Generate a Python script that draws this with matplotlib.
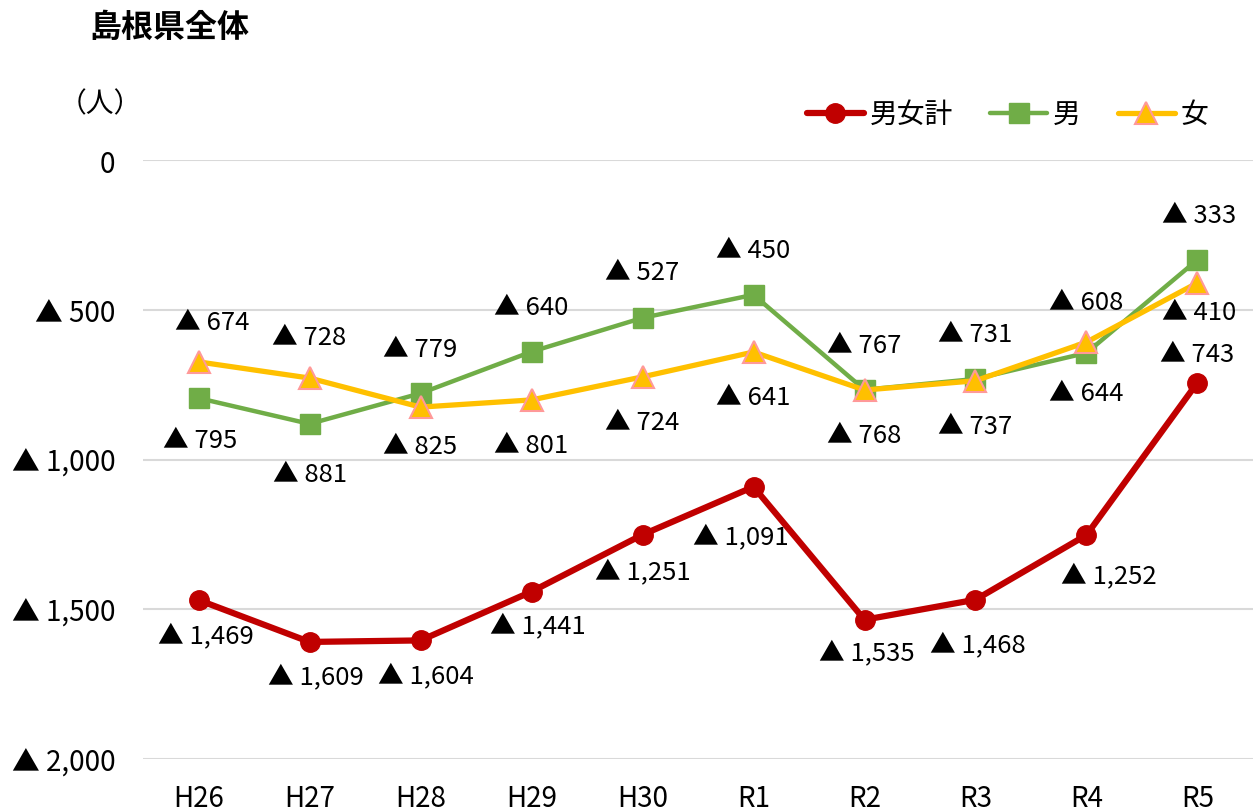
import matplotlib
matplotlib.use("Agg")
from matplotlib import pyplot as plt
from matplotlib.ticker import FuncFormatter

plt.rcParams['font.family'] = ['Noto Sans CJK JP', 'DejaVu Sans']

# 島根県全体 の人口増減（▲ = 減少）
years = ['H26', 'H27', 'H28', 'H29', 'H30', 'R1', 'R2', 'R3', 'R4', 'R5']
total = [-1469, -1609, -1604, -1441, -1251, -1091, -1535, -1468, -1252, -743]
male = [-795, -881, -779, -640, -527, -450, -767, -731, -644, -333]
female = [-674, -728, -825, -801, -724, -641, -768, -737, -608, -410]

# label offsets from each point, in pixels (dx right, dy down)
total_dx = [7, 6, 5, 6, 0, -13, 2, 2, 22, 0]
total_dy = [35, 34, 35, 34, 37, 49, 33, 45, 40, -29]
male_dx = [2, 0, 0, 0, 0, 0, 0, 0, 0, 2]
male_dy = [42, 50, -44, -45, -46, -45, -45, -45, 40, -45]
female_dx = [14, 0, 0, 0, 0, 0, 0, 0, 0, 2]
female_dy = [-40, -41, 39, 45, 45, 45, 45, 45, -40, 29]

FS = 18.5
TFS = 20


def fmt(v):
    if v < 0:
        return '▲ {:,}'.format(int(-v))
    return '{:,}'.format(int(v))


fig = plt.figure(figsize=(12.57, 8.12), dpi=100)
ax = fig.add_axes([0.1138, 0.064, 0.883, 0.7377])

x = list(range(len(years)))

ax.plot(x, total, color='#C00000', lw=4.5, marker='o', ms=14,
        mfc='#C00000', mec='#C00000', label='男女計', zorder=3,
        solid_capstyle='round')
ax.plot(x, male, color='#70AD47', lw=3.2, marker='s', ms=15,
        mfc='#70AD47', mec='#70AD47', label='男', zorder=4,
        solid_capstyle='round')
ax.plot(x, female, color='#FFC000', lw=3.8, marker='^', ms=16,
        mfc='#FFC000', mec='#FF9999', mew=1.5, label='女', zorder=5,
        solid_capstyle='round')


def put_labels(vals, dxs, dys):
    for i, v in enumerate(vals):
        ax.annotate(fmt(v), (i, v), xytext=(dxs[i], -dys[i]),
                    textcoords='offset pixels', ha='center', va='center',
                    fontsize=FS, color='black', zorder=6)


put_labels(total, total_dx, total_dy)
put_labels(male, male_dx, male_dy)
put_labels(female, female_dx, female_dy)

ax.set_xlim(-0.5, len(years) - 0.5)
ax.set_ylim(-2000, 0)
ax.set_yticks([0, -500, -1000, -1500, -2000])
ax.yaxis.set_major_formatter(FuncFormatter(lambda v, p: fmt(v)))
ax.set_xticks(x)
ax.set_xticklabels(years)
ax.tick_params(axis='y', length=0, pad=20, labelsize=TFS)
ax.tick_params(axis='x', length=0, pad=17, labelsize=TFS)
ax.grid(axis='y', color='#D9D9D9', lw=1.5, zorder=0)
ax.set_axisbelow(True)
for sp in ax.spines.values():
    sp.set_visible(False)

fig.text(0.071, 0.965, '島根県全体', fontsize=23, fontweight='bold',
         ha='left', va='center')
fig.text(0.047, 0.872, '（人）', fontsize=20, ha='left', va='center')

leg = fig.legend(loc='center right', bbox_to_anchor=(0.981, 0.858), ncol=3,
                 frameon=False, fontsize=TFS, handlelength=2.05,
                 columnspacing=1.35, handletextpad=0.2)

fig.savefig('out.png', dpi=100)
